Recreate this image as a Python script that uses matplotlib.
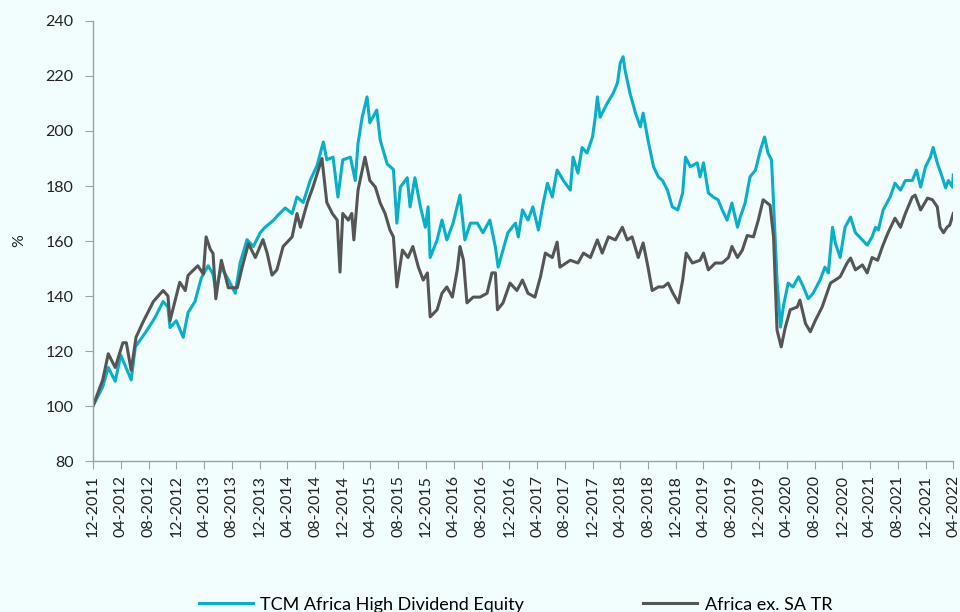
import numpy as np
import pandas as pd
import matplotlib
matplotlib.use("Agg")
import matplotlib.pyplot as plt
import matplotlib.dates as mdates

plt.rcParams['font.family'] = ['Lato', 'DejaVu Sans']

# months since 1 Dec 2011 (index, start = 100)
tcm_months = [0.0, 1.4, 2.2, 3.2, 4.0, 5.5, 6.1, 7.5, 8.9, 10.1, 10.8, 11.1, 12.0, 13.0, 13.7, 14.7,
              15.6, 16.6, 17.3, 17.7, 18.5, 19.5, 20.5, 21.2, 22.2, 23.1, 24.1, 24.8, 26.0, 26.7,
              27.7, 28.7, 29.4, 30.3, 31.3, 32.3, 33.2, 33.7, 34.6, 35.3, 36.0, 37.1, 37.8, 38.2,
              38.8, 39.5, 39.9, 40.9, 41.4, 42.4, 43.3, 43.8, 44.3, 45.3, 45.7, 46.4, 47.2, 47.9,
              48.3, 48.6, 49.6, 50.3, 51.0, 51.9, 52.9, 53.6, 54.4, 55.4, 56.2, 57.2, 58.0, 58.4,
              59.1, 59.8, 60.9, 61.3, 61.9, 62.7, 63.4, 64.2, 64.9, 65.5, 66.2, 66.9, 67.8, 68.8,
              69.2, 69.9, 70.5, 71.2, 72.0, 72.4, 72.7, 73.1, 74.1, 75.0, 75.6, 76.0, 76.4, 76.7,
              77.4, 78.2, 78.9, 79.3, 80.0, 80.8, 81.5, 82.1, 82.8, 83.5, 84.3, 85.0, 85.4, 86.1,
              87.1, 87.5, 88.0, 88.7, 89.4, 90.1, 90.7, 91.4, 92.1, 92.9, 93.3, 94.0, 94.7, 95.5,
              96.2, 96.8, 97.3, 97.8, 98.1, 98.6, 99.1, 99.5, 100.2, 100.9, 101.7, 102.4, 103.1,
              103.8, 104.8, 105.5, 106.0, 106.6, 107.0, 107.7, 108.4, 109.2, 109.9, 110.9, 111.6,
              112.3, 112.8, 113.2, 113.9, 114.9, 115.6, 116.4, 117.1, 118.1, 118.7, 119.3, 120.0,
              120.7, 121.1, 121.7, 122.4, 122.9, 123.3, 123.9, 124.0]
tcm_values = [100, 107, 114, 109, 118.5, 109.5, 121.5, 126.5, 132, 138, 136, 128.5, 131, 125, 134, 138,
              146.5, 151, 148, 142, 150.5, 146, 141, 152, 160.5, 158, 163, 165, 167.5, 169.5,
              172, 170, 176, 174, 182, 187.5, 196, 189.5, 190.5, 176, 189.5, 190.5, 182, 195.5,
              205, 212.4, 203, 207.6, 196.7, 188, 186, 166.5, 179.6, 183, 172.4, 183, 172.4, 165,
              172.4, 154, 160.4, 167.6, 160.4, 166.5, 176.7, 160.4, 166.5, 166.5, 163, 167.6, 157.8, 150.5,
              156.7, 163, 166.5, 161.5, 171.3, 167.6, 172.4, 164, 173.8, 181, 176, 185.8, 182, 178.5,
              190.5, 184.7, 194, 192, 197.8, 205, 212.4, 205, 210, 213.8, 217.5, 224.7, 227, 222,
              213.8, 206.5, 201.5, 206.5, 196.7, 187, 183.3, 182, 178.5, 172.4, 171.3, 177.5, 190.5, 187,
              188.4, 183.3, 188.4, 177.5, 176, 175, 171.3, 167.6, 173.8, 165, 168.7, 173.8, 183.3, 185.8,
              193, 197.8, 192, 189.5, 173.8, 145.8, 128.7, 136, 144.7, 143.3, 147, 143.3, 139,
              141, 145.8, 150.5, 148.4, 165, 159.3, 154, 165, 168.7, 163, 160.4, 158.5,
              161.5, 165, 164, 171.3, 176, 181, 178.5, 182, 182, 185.8, 179.6, 187,
              190.5, 194, 188.4, 183.3, 179.3, 182, 179.6, 184]

msci_months = [0.0, 1.4, 2.2, 3.2, 4.3, 4.8, 5.5, 6.2, 7.2, 8.7, 10.1, 10.8, 11.1, 11.8, 12.5, 13.3,
               13.7, 15.1, 15.9, 16.3, 16.9, 17.3, 17.7, 18.5, 19.5, 20.8, 21.5, 22.4, 23.4, 24.5,
               25.1, 25.8, 26.5, 27.4, 28.7, 29.4, 29.9, 30.9, 31.7, 33.0, 33.7, 34.5, 35.2, 35.6,
               36.0, 36.8, 37.3, 37.6, 38.2, 39.2, 39.9, 40.7, 41.4, 42.1, 42.8, 43.3, 43.8, 44.6,
               45.4, 46.1, 46.9, 47.6, 48.2, 48.6, 49.6, 50.3, 51.0, 51.8, 52.5, 52.9, 53.4, 53.9,
               54.8, 55.8, 56.8, 57.5, 58.0, 58.3, 59.1, 60.1, 61.1, 61.9, 62.7, 63.7, 64.5, 65.2,
               66.2, 66.9, 67.3, 68.8, 69.9, 70.7, 71.7, 72.7, 73.4, 74.3, 75.3, 76.3, 77.0, 77.7,
               78.6, 79.3, 80.0, 80.6, 81.5, 82.2, 82.9, 83.6, 84.4, 85.0, 85.5, 86.4, 87.5, 88.0,
               88.7, 89.7, 90.7, 91.6, 92.1, 92.9, 93.6, 94.3, 95.2, 95.9, 96.6, 97.6, 98.1, 98.6,
               99.2, 99.8, 100.5, 101.5, 101.9, 102.7, 103.4, 104.1, 105.1, 106.3, 107.0, 107.7,
               108.7, 109.2, 109.9, 110.9, 111.6, 112.3, 113.1, 113.8, 114.6, 115.6, 116.4, 117.1,
               118.1, 118.5, 119.3, 120.3, 121.0, 121.7, 122.1, 122.6, 123.1, 123.5, 124.0]
msci_values = [100, 109.5, 119, 114, 123, 123, 113, 125, 130.5, 138, 142, 140, 131, 138, 145, 142,
               147.5, 151, 148, 161.5, 157, 155.5, 139, 153, 143, 143, 150.5, 159, 154, 160.5,
               155.6, 147.6, 149.5, 158, 161.5, 170, 165, 174, 179.6, 190, 174, 170, 167.6, 148.7,
               170, 167.6, 170, 160.4, 178.5, 190.5, 182, 179.6, 173.8, 170, 164, 161.5, 143.3, 156.7,
               154, 158, 150.5, 145.8, 148.4, 132.4, 135, 141, 143.3, 139.6, 149.5, 158, 153, 137.5,
               139.6, 139.6, 141, 148.4, 148.4, 135, 137.5, 144.7, 142, 145.8, 141, 139.6, 147, 155.6,
               154, 159.6, 150.5, 153, 152, 155.6, 154, 160.4, 155.6, 161.5, 160.4, 165, 160.4, 161.5,
               154, 159.3, 150.5, 142, 143.3, 143.3, 144.7, 141, 137.5, 145.8, 155.6, 152, 153, 155.6,
               149.5, 152, 152, 154, 158, 154, 156.7, 162, 161.5, 167.6, 175, 173, 161.5, 127.6,
               121.5, 128.7, 135, 136, 138.5, 130, 127, 131, 136, 144.7, 145.8, 147,
               152, 153.8, 149.5, 151.3, 148.4, 154, 153, 158, 163, 168.3, 165, 170,
               176, 176.7, 171.3, 175.6, 175, 172.4, 165, 163, 165, 165.8, 170]

series_names = ["TCM Africa High Dividend Equity", "Africa ex. SA TR"]
y_ticks = [80, 100, 120, 140, 160, 180, 200, 220, 240]

start = pd.Timestamp("2011-12-01")
end = pd.Timestamp("2022-04-01")


def to_dates(months):
    return start + pd.to_timedelta(np.array(months) * 30.4375, unit="D")


bg = "#F2FEFE"
fig = plt.figure(figsize=(9.6, 6.12), dpi=100, facecolor=bg)
ax = fig.add_axes([0.0969, 0.2467, 0.896, 0.719])
ax.set_facecolor(bg)

ax.plot(to_dates(tcm_months), tcm_values, color="#0AAEC6", lw=2.2, label=series_names[0])
ax.plot(to_dates(msci_months), msci_values, color="#555555", lw=2.2, label=series_names[1])

ax.set_ylim(80, 240)
ax.set_yticks(y_ticks)
ax.set_xlim(start, end)
ax.set_xticks(pd.date_range(start, end, freq="4MS"))
ax.xaxis.set_major_formatter(mdates.DateFormatter("%m-%Y"))
ax.tick_params(axis="x", rotation=90, labelsize=11.5, colors="#222222", length=6, color="#a0a0a0", pad=4)
ax.tick_params(axis="y", labelsize=11.5, colors="#222222", length=6, color="#a0a0a0", pad=8)

for side in ["top", "right"]:
    ax.spines[side].set_visible(False)
for side in ["left", "bottom"]:
    ax.spines[side].set_color("#a0a0a0")
    ax.spines[side].set_linewidth(1.0)

ax.set_ylabel("%", fontsize=11.5, color="#222222", labelpad=14)

fig.legend(loc="center", bbox_to_anchor=(0.537, 0.012), ncol=2, frameon=False,
           fontsize=13, handlelength=3.0, handletextpad=0.4, columnspacing=6.6)

fig.savefig("out.png", dpi=100, facecolor=bg)
